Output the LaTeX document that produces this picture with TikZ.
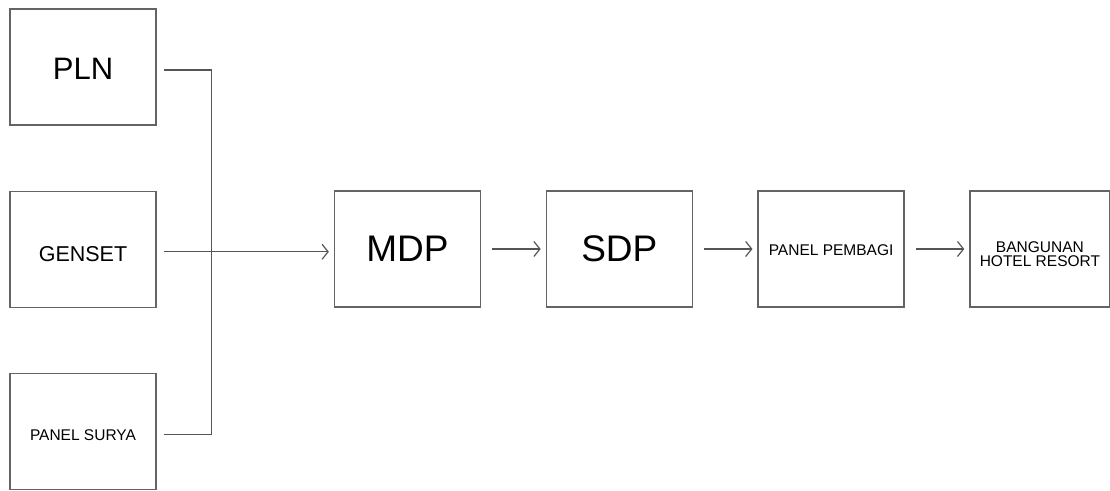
\documentclass[tikz,border=0pt]{standalone}
\usepackage{fontspec}
\setmainfont{Liberation Sans}
\usetikzlibrary{arrows.meta,positioning}
\definecolor{edge}{RGB}{85,85,85}
\definecolor{frame}{RGB}{100,100,100}

\begin{document}
\begin{tikzpicture}[x=1pt, y=-1pt, node distance=64.5pt,
  block/.style={rectangle, draw=frame, line width=1.3pt, minimum width=146pt, minimum height=116pt, inner sep=0pt, align=center},
  big/.style={font=\fontsize{31}{36}\selectfont},
  huge/.style={font=\fontsize{37}{42}\selectfont},
  small/.style={font=\fontsize{15.5}{14}\selectfont},
  wire/.style={draw=edge, line width=1.2pt},
  flow/.style={wire, -{Straight Barb[length=6pt, width=15pt, line width=1.2pt]}, shorten <=11pt, shorten >=5pt}]
\useasboundingbox (0,0) rectangle (1110,490);

% sumber daya
\node (pln) [block, big] at (83,67) {\raisebox{-2pt}[\height][0pt]{PLN}};
\node (genset) [block, font=\fontsize{21.5}{24}\selectfont, below=65pt of pln] {\raisebox{-5pt}[\height][0pt]{GENSET}};
\node (surya) [block, small, below=65pt of genset] {\raisebox{-3pt}[\height][0pt]{PANEL SURYA}};

% distribusi
\node (mdp) [block, huge] at (407.5,249) {MDP};
\node (sdp) [block, huge, right=of mdp] {SDP};
\node (pembagi) [block, small, right=of sdp] {\raisebox{-1.5pt}[\height][0pt]{PANEL PEMBAGI}};
\node (hotel) [block, small, right=of pembagi, minimum width=140pt] {\raisebox{-5pt}[\height][0pt]{BANGUNAN}\\\raisebox{-5pt}[\height][0pt]{HOTEL RESORT}};

% rel pengumpul
\coordinate (bustop) at ([xshift=55pt, yshift=-3pt]pln.east);
\coordinate (busbot) at ([xshift=55pt, yshift=-3pt]surya.east);
\draw [wire] ([xshift=7pt, yshift=-3pt]pln.east) -- (bustop) -- (busbot) -- ([xshift=7pt, yshift=-3pt]surya.east);
\draw [flow, shorten <=7pt] ([yshift=-2.5pt]genset.east) -- ([yshift=-2.5pt]genset.east -| mdp.west);

\draw [flow] (mdp) -- (sdp);
\draw [flow] (sdp) -- (pembagi);
\draw [flow] (pembagi) -- (hotel);
\end{tikzpicture}
\end{document}
